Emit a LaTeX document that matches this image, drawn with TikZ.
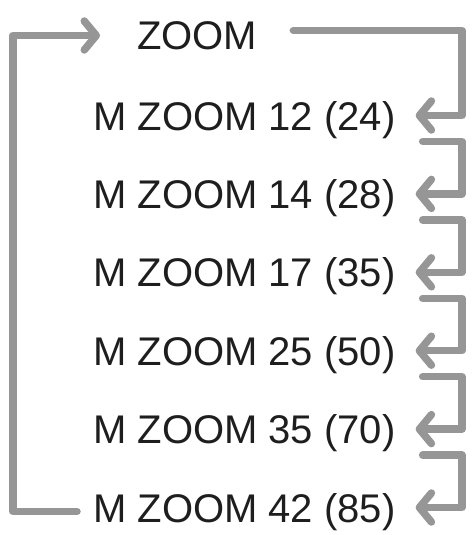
\documentclass[tikz,border=0pt]{standalone}
\usepackage{fontspec}
\setmainfont{Liberation Sans}
\usepackage{xcolor}
\usetikzlibrary{arrows.meta}
\definecolor{flowgray}{RGB}{150,150,150}
\definecolor{txtblack}{RGB}{30,30,30}
\tikzset{
  lbl/.style={anchor=base west, inner sep=0pt, text height=29pt, text depth=0pt,
    text=txtblack, font=\fontsize{40}{48}\selectfont},
  flow/.style={draw=flowgray, line width=7.5pt, line cap=round, line join=round,
    -{Straight Barb[length=12pt,width=29pt,line cap=round,line join=round]}}
}
\begin{document}
\begin{tikzpicture}[x=1pt,y=-1pt]
\useasboundingbox (0,0) rectangle (476,535);
\node[lbl] (0) at (137,50) {ZOOM};
\node[lbl] (1) at (93,130) {M ZOOM 12 (24)};
\node[lbl] (2) at (93,208.4) {M ZOOM 14 (28)};
\node[lbl] (3) at (93,286.8) {M ZOOM 17 (35)};
\node[lbl] (4) at (93,365.2) {M ZOOM 25 (50)};
\node[lbl] (5) at (93,443.6) {M ZOOM 35 (70)};
\node[lbl] (6) at (93,522) {M ZOOM 42 (85)};
\coordinate (lx) at (13,0);
\coordinate (rx) at (462,0);
% loop back to the top
\draw[flow] ([xshift=-16pt,yshift=-4pt]6.west) -| (lx |- 0.west) -- ([xshift=-37pt]0.west);
% steps down the right side
\draw[flow] ([xshift=36pt,yshift=5pt]0.east) -| (rx |- 1.east) -- ([xshift=20pt]1.east);
\foreach \a/\b in {1/2,2/3,3/4,4/5,5/6}
  \draw[flow] ([xshift=27pt,yshift=-26pt]\a.east) -| (rx |- \b.east) -- ([xshift=20pt]\b.east);
\end{tikzpicture}
\end{document}
